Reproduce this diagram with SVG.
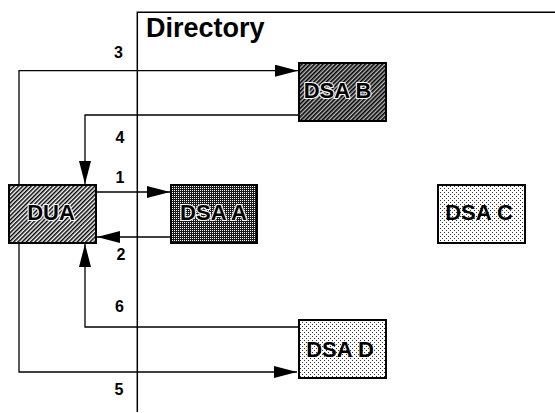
<svg xmlns="http://www.w3.org/2000/svg" width="555" height="413" viewBox="0 0 555 413">
<style>
.frame{fill:none;stroke:#000;stroke-width:1.5}
.conn{fill:none;stroke:#000;stroke-width:1.3}
.box{stroke:#000;stroke-width:2}
.lbl{font-family:"Liberation Sans",Arial,sans-serif;font-weight:bold;font-size:22px;text-anchor:middle;fill:#000}
.halo{stroke:#fff;stroke-width:2.2;paint-order:stroke;stroke-linejoin:round}
.num{font-family:"Liberation Sans",Arial,sans-serif;font-weight:bold;font-size:16px;text-anchor:middle;fill:#000}
.title{font-family:"Liberation Sans",Arial,sans-serif;font-weight:bold;font-size:27px;fill:#000}
</style>
<defs>
<pattern id="hatch" patternUnits="userSpaceOnUse" width="3" height="3" patternTransform="rotate(45)">
<rect width="3" height="3" fill="#fff"/>
<rect width="1.5" height="3" fill="#000"/>
</pattern>
<pattern id="hatchDark" patternUnits="userSpaceOnUse" width="3" height="3" patternTransform="rotate(45)">
<rect width="3" height="3" fill="#bbb"/>
<rect width="1.6" height="3" fill="#000"/>
</pattern>
<pattern id="checker" patternUnits="userSpaceOnUse" width="2" height="2">
<rect width="2" height="2" fill="#1a1a1a"/>
<rect width="1" height="1" fill="#fff"/>
</pattern>
<pattern id="dots" patternUnits="userSpaceOnUse" width="4" height="4">
<rect width="4" height="4" fill="#fff"/>
<rect width="1" height="1" fill="#333"/>
<rect x="2" y="2" width="1" height="1" fill="#333"/>
</pattern>
<marker id="arr" markerUnits="userSpaceOnUse" markerWidth="23" markerHeight="12" refX="23" refY="6" orient="auto">
<path d="M0,0 L23,6 L0,12 Z" fill="#000"/>
</marker>
</defs>
<g id="directory">
<path class="frame" d="M137.3,412 V12.3 H555"/>
<text class="title" x="146" y="37">Directory</text>
</g>
<g id="connectors">
<path class="conn" d="M19,184 V70.7 H298" marker-end="url(#arr)"/>
<path class="conn" d="M299,115 H85 V184" marker-end="url(#arr)"/>
<path class="conn" d="M97,192 H170" marker-end="url(#arr)"/>
<path class="conn" d="M170,237 H97" marker-end="url(#arr)"/>
<path class="conn" d="M19,244 V372 H297" marker-end="url(#arr)"/>
<path class="conn" d="M298,327 H85 V244" marker-end="url(#arr)"/>
<text class="num" x="118.5" y="58">3</text>
<text class="num" x="120" y="143">4</text>
<text class="num" x="120" y="183">1</text>
<text class="num" x="121" y="260">2</text>
<text class="num" x="119.5" y="312">6</text>
<text class="num" x="119" y="395">5</text>
</g>
<g id="dua">
<rect class="box" x="9" y="185" width="87" height="58" fill="url(#hatch)"/>
<text class="lbl halo" x="51" y="220">DUA</text>
</g>
<g id="dsa-a">
<rect class="box" x="171" y="185" width="86" height="58" fill="url(#checker)"/>
<text class="lbl halo" x="213.5" y="220">DSA A</text>
</g>
<g id="dsa-b">
<rect class="box" x="299" y="63" width="87" height="58" fill="url(#hatchDark)"/>
<text class="lbl halo" x="337.5" y="98">DSA B</text>
</g>
<g id="dsa-c">
<rect class="box" x="438" y="185" width="87" height="58" fill="url(#dots)"/>
<text class="lbl" x="479" y="220">DSA C</text>
</g>
<g id="dsa-d">
<rect class="box" x="299" y="320" width="87" height="58" fill="url(#dots)"/>
<text class="lbl" x="340" y="357">DSA D</text>
</g>
</svg>
